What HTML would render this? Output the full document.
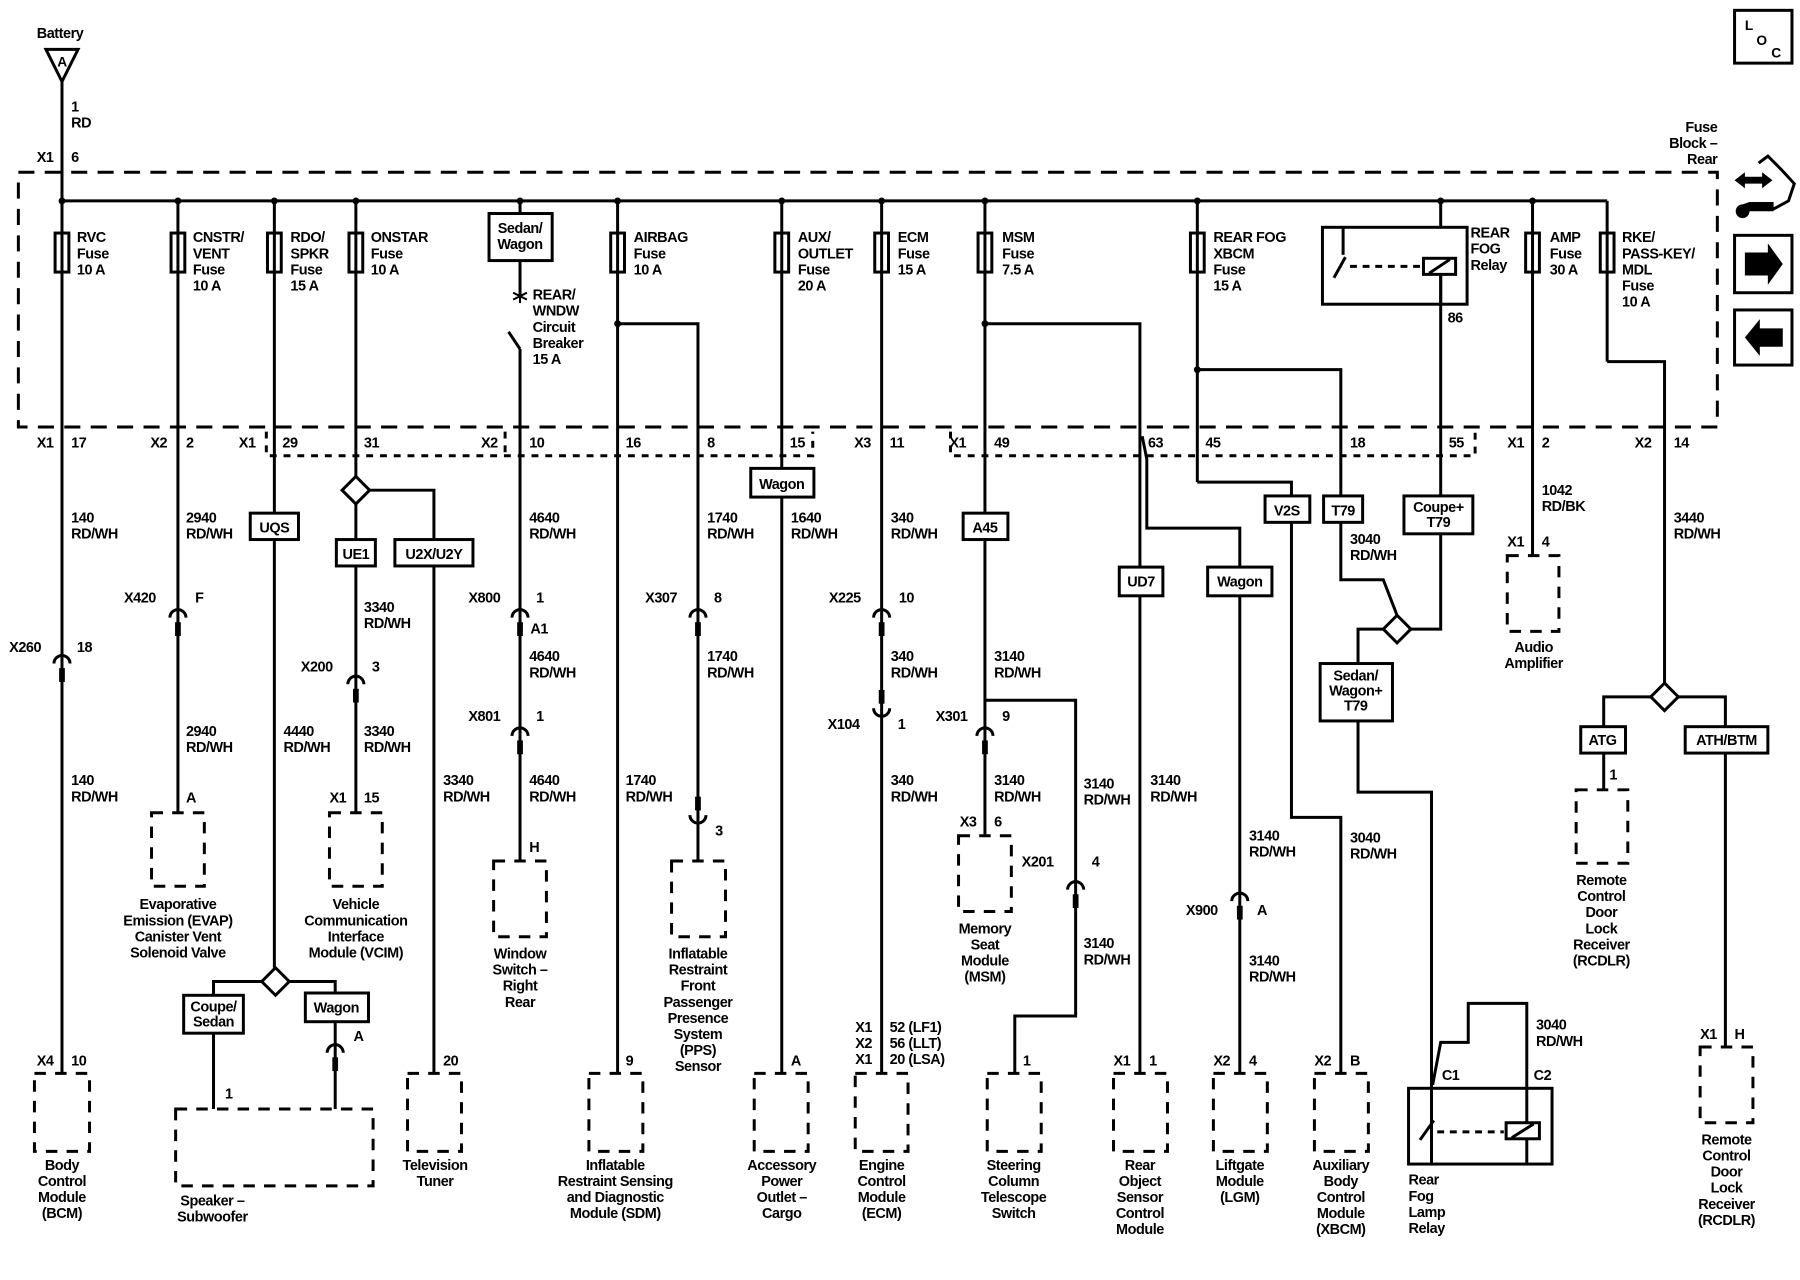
<!DOCTYPE html>
<html><head><meta charset="utf-8"><style>
html,body{margin:0;padding:0;background:#fff}
svg{display:block}
text{font-family:"Liberation Sans",Arial,sans-serif;font-size:12.6px;font-weight:bold;letter-spacing:-0.4px;fill:#000}
.m{text-anchor:middle}.e{text-anchor:end}
</style></head><body>
<svg width="1800" height="1280" viewBox="0 0 1568 1115" preserveAspectRatio="none" xmlns="http://www.w3.org/2000/svg">
<g stroke="#000" stroke-width="2.6" fill="none">
<path d="M40 43 L68 43 L54 71 Z"/>
<line x1="54" y1="71" x2="54" y2="935"/>
<rect x="16" y="150" width="1480" height="222" stroke-dasharray="14,9"/>
<path d="M232 376 V397 H708 V376" stroke-dasharray="6,6"/>
<line x1="440" y1="376" x2="440" y2="397" stroke-dasharray="6,6"/>
<path d="M828 376 V397 H1285 V376" stroke-dasharray="6,6"/>
<line x1="54" y1="175" x2="1400" y2="175"/>
<line x1="155" y1="175" x2="155" y2="708"/>
<line x1="239" y1="175" x2="239" y2="843"/>
<line x1="310" y1="175" x2="310" y2="415"/>
<path d="M322 427 H378 V935"/>
<line x1="310" y1="439" x2="310" y2="708"/>
<line x1="453" y1="175" x2="453" y2="186"/>
<line x1="453" y1="227" x2="453" y2="258"/>
<line x1="443" y1="289" x2="453" y2="304"/>
<line x1="453" y1="304" x2="453" y2="750"/>
<line x1="538" y1="175" x2="538" y2="935"/>
<path d="M538 282 H608 V750"/>
<line x1="681" y1="175" x2="681" y2="935"/>
<line x1="768" y1="175" x2="768" y2="935"/>
<line x1="858" y1="175" x2="858" y2="728"/>
<path d="M858 282 H993 V935"/>
<path d="M995 380 L999 400 V460 H1080 V935"/>
<path d="M858 610 H937 V885 H884 V935"/>
<line x1="1043" y1="175" x2="1043" y2="420"/>
<path d="M1043 322 H1168 V505 H1205 L1217 536"/>
<path d="M1043 420 H1125 V712 H1168 V935"/>
<path d="M1255 235 V548 H1229"/>
<path d="M1205 548 H1183 V690 H1247 V1013"/>
<path d="M1330 948 V874 H1279 V908 H1255 L1248 945"/>
<line x1="1335" y1="175" x2="1335" y2="484"/>
<line x1="1400" y1="175" x2="1400" y2="315"/>
<path d="M1400 315 H1450 V595"/>
<path d="M1438 607 H1397 V688"/>
<path d="M1462 607 H1503 V912"/>
<path d="M228 855 H186 V966"/>
<path d="M252 855 H292 V966"/>
</g>
<g stroke="#000" stroke-width="1.8">
<line x1="453" y1="252" x2="453" y2="264"/><line x1="447" y1="255" x2="459" y2="261"/><line x1="447" y1="261" x2="459" y2="255"/>
</g>
<g fill="#000">
<circle cx="54" cy="175" r="3"/><circle cx="155" cy="175" r="3"/><circle cx="239" cy="175" r="3"/><circle cx="310" cy="175" r="3"/><circle cx="453" cy="175" r="3"/><circle cx="538" cy="175" r="3"/><circle cx="681" cy="175" r="3"/><circle cx="768" cy="175" r="3"/><circle cx="858" cy="175" r="3"/><circle cx="1043" cy="175" r="3"/><circle cx="1255" cy="175" r="3"/><circle cx="1335" cy="175" r="3"/>
<circle cx="538" cy="282" r="3"/><circle cx="858" cy="282" r="3"/><circle cx="1043" cy="322" r="3"/>
</g>
<line x1="1255" y1="175" x2="1255" y2="198" stroke="#000" stroke-width="2.6"/>
<g stroke="#000" stroke-width="2.6" fill="#fff">
<rect x="48" y="203" width="12" height="34"/><rect x="149" y="203" width="12" height="34"/><rect x="233" y="203" width="12" height="34"/><rect x="304" y="203" width="12" height="34"/><rect x="532" y="203" width="12" height="34"/><rect x="675" y="203" width="12" height="34"/><rect x="762" y="203" width="12" height="34"/><rect x="852" y="203" width="12" height="34"/><rect x="1037" y="203" width="12" height="34"/><rect x="1329" y="203" width="12" height="34"/><rect x="1394" y="203" width="12" height="34"/>
</g>
<g stroke="#000" stroke-width="2.6">
<line x1="54" y1="203" x2="54" y2="237"/><line x1="155" y1="203" x2="155" y2="237"/><line x1="239" y1="203" x2="239" y2="237"/><line x1="310" y1="203" x2="310" y2="237"/><line x1="538" y1="203" x2="538" y2="237"/><line x1="681" y1="203" x2="681" y2="237"/><line x1="768" y1="203" x2="768" y2="237"/><line x1="858" y1="203" x2="858" y2="237"/><line x1="1043" y1="203" x2="1043" y2="237"/><line x1="1335" y1="203" x2="1335" y2="237"/><line x1="1400" y1="203" x2="1400" y2="237"/>
</g>
<g stroke="#000" stroke-width="2.6" fill="#fff">
<rect x="426" y="186" width="55" height="41"/>
<rect x="218" y="447" width="42" height="23"/>
<rect x="293" y="470" width="34" height="23"/>
<rect x="344" y="470" width="68" height="23"/>
<rect x="654" y="408" width="55" height="25"/>
<rect x="839" y="447" width="39" height="23"/>
<rect x="975" y="494" width="38" height="25"/>
<rect x="1052" y="494" width="56" height="25"/>
<rect x="1102" y="432" width="39" height="23"/>
<rect x="1153" y="432" width="34" height="23"/>
<rect x="1223" y="432" width="60" height="33"/>
<rect x="1150" y="578" width="63" height="50"/>
<rect x="1377" y="633" width="39" height="23"/>
<rect x="1468" y="633" width="72" height="23"/>
<rect x="160" y="867" width="52" height="33"/>
<rect x="266" y="865" width="55" height="25"/>
<path d="M310 415 L322 427 L310 439 L298 427 Z"/>
<path d="M240 843 L252 855 L240 867 L228 855 Z"/>
<path d="M1217 536 L1229 548 L1217 560 L1205 548 Z"/>
<path d="M1450 595 L1462 607 L1450 619 L1438 607 Z"/>
<rect x="1152" y="198" width="126" height="67" fill="none"/>
<rect x="1227" y="948" width="125" height="66" fill="none"/>
</g>
<g stroke="#000" stroke-width="2.6" fill="none">
<line x1="1170" y1="198" x2="1170" y2="222"/><line x1="1162" y1="242" x2="1172" y2="224"/>
<line x1="1176" y1="232" x2="1238" y2="232" stroke-dasharray="6,5"/>
<rect x="1240" y="225" width="28" height="14" fill="#fff"/><line x1="1245" y1="238" x2="1263" y2="226"/>
<line x1="1255" y1="239" x2="1255" y2="265"/>
<line x1="1247" y1="1000" x2="1247" y2="1013"/><line x1="1237" y1="993" x2="1249" y2="976"/>
<line x1="1252" y1="986" x2="1310" y2="986" stroke-dasharray="6,5"/>
<line x1="1330" y1="948" x2="1330" y2="1013"/>
<rect x="1312" y="978" width="29" height="14" fill="#fff"/><line x1="1317" y1="991" x2="1336" y2="979"/>
</g>
<g stroke="#000" stroke-width="2.6" fill="none" stroke-dasharray="10,8">
<rect x="30" y="935" width="48" height="68"/>
<rect x="132" y="708" width="46" height="64"/>
<rect x="287" y="708" width="46" height="64"/>
<rect x="153" y="966" width="172" height="67"/>
<rect x="355" y="935" width="47" height="68"/>
<rect x="430" y="750" width="46" height="66"/>
<rect x="513" y="935" width="47" height="68"/>
<rect x="585" y="750" width="47" height="66"/>
<rect x="657" y="935" width="47" height="68"/>
<rect x="745" y="935" width="46" height="68"/>
<rect x="835" y="728" width="46" height="66"/>
<rect x="860" y="935" width="47" height="68"/>
<rect x="970" y="935" width="47" height="68"/>
<rect x="1057" y="935" width="47" height="68"/>
<rect x="1145" y="935" width="47" height="68"/>
<rect x="1313" y="484" width="45" height="66"/>
<rect x="1373" y="688" width="45" height="64"/>
<rect x="1481" y="912" width="46" height="66"/>
</g>
<g stroke="#000" stroke-width="2.6" fill="none">
<path d="M47 578 A7 7 0 0 1 61 578"/><path d="M148 538 A7 7 0 0 1 162 538"/><path d="M303 596 A7 7 0 0 1 317 596"/><path d="M446 538 A7 7 0 0 1 460 538"/><path d="M446 641 A7 7 0 0 1 460 641"/><path d="M601 538 A7 7 0 0 1 615 538"/><path d="M761 538 A7 7 0 0 1 775 538"/><path d="M851 641 A7 7 0 0 1 865 641"/><path d="M930 775 A7 7 0 0 1 944 775"/><path d="M1073 785 A7 7 0 0 1 1087 785"/><path d="M285 917 A7 7 0 0 1 299 917"/>
<path d="M601 710 A7 7 0 0 0 615 710"/><path d="M761 617 A7 7 0 0 0 775 617"/>
</g>
<g fill="#000">
<rect x="51.5" y="582" width="5" height="12"/><rect x="152.5" y="542" width="5" height="12"/><rect x="307.5" y="600" width="5" height="12"/><rect x="450.5" y="542" width="5" height="12"/><rect x="450.5" y="645" width="5" height="12"/><rect x="605.5" y="542" width="5" height="12"/><rect x="765.5" y="542" width="5" height="12"/><rect x="855.5" y="645" width="5" height="12"/><rect x="934.5" y="779" width="5" height="12"/><rect x="1077.5" y="789" width="5" height="12"/><rect x="289.5" y="921" width="5" height="12"/>
<rect x="605.5" y="694" width="5" height="12"/><rect x="765.5" y="601" width="5" height="12"/>
</g>
<g stroke="#000" stroke-width="2.6" fill="none">
<rect x="1511" y="9" width="50" height="46"/>
<rect x="1511" y="205" width="50" height="50"/>
<rect x="1511" y="270" width="50" height="48"/>
<path d="M1532 142 L1540 136 L1552 148 L1563 160 L1558 175 L1545 182 L1526 180"/>
</g>
<g fill="#000">
<path d="M1520 220 H1540 V212 L1553 230 L1540 248 V240 H1520 Z"/>
<path d="M1553 286 H1533 V278 L1520 294 L1533 310 V302 H1553 Z"/>
<path d="M1511 157 L1520 150 V154 H1535 V150 L1544 157 L1535 164 V160 H1520 V164 Z"/>
<path d="M1518 178 a6 6 0 1 0 6 6 H1545 V176 H1524 Z"/>
</g>
<text x="1520" y="26" style="font-size:12px">L</text><text x="1530" y="39" style="font-size:12px">O</text><text x="1543" y="50" style="font-size:12px">C</text>
<text x="32" y="33">Battery</text>
<text x="54" y="58" class="m" style="font-size:12px">A</text>
<text x="62" y="97">1</text><text x="62" y="111">RD</text>
<text x="32" y="141">X1</text><text x="62" y="141">6</text>
<text x="1496" y="115" class="e">Fuse</text><text x="1496" y="129" class="e">Block –</text><text x="1496" y="143" class="e">Rear</text>
<text x="67" y="211">RVC<tspan x="67" dy="14">Fuse</tspan><tspan x="67" dy="14">10 A</tspan></text>
<text x="168" y="211">CNSTR/<tspan x="168" dy="14">VENT</tspan><tspan x="168" dy="14">Fuse</tspan><tspan x="168" dy="14">10 A</tspan></text>
<text x="253" y="211">RDO/<tspan x="253" dy="14">SPKR</tspan><tspan x="253" dy="14">Fuse</tspan><tspan x="253" dy="14">15 A</tspan></text>
<text x="323" y="211">ONSTAR<tspan x="323" dy="14">Fuse</tspan><tspan x="323" dy="14">10 A</tspan></text>
<text x="453" y="203" class="m">Sedan/<tspan x="453" dy="14">Wagon</tspan></text>
<text x="464" y="261">REAR/<tspan x="464" dy="14">WNDW</tspan><tspan x="464" dy="14">Circuit</tspan><tspan x="464" dy="14">Breaker</tspan><tspan x="464" dy="14">15 A</tspan></text>
<text x="552" y="211">AIRBAG<tspan x="552" dy="14">Fuse</tspan><tspan x="552" dy="14">10 A</tspan></text>
<text x="695" y="211">AUX/<tspan x="695" dy="14">OUTLET</tspan><tspan x="695" dy="14">Fuse</tspan><tspan x="695" dy="14">20 A</tspan></text>
<text x="782" y="211">ECM<tspan x="782" dy="14">Fuse</tspan><tspan x="782" dy="14">15 A</tspan></text>
<text x="873" y="211">MSM<tspan x="873" dy="14">Fuse</tspan><tspan x="873" dy="14">7.5 A</tspan></text>
<text x="1057" y="211">REAR FOG<tspan x="1057" dy="14">XBCM</tspan><tspan x="1057" dy="14">Fuse</tspan><tspan x="1057" dy="14">15 A</tspan></text>
<text x="1281" y="207">REAR<tspan x="1281" dy="14">FOG</tspan><tspan x="1281" dy="14">Relay</tspan></text>
<text x="1261" y="281">86</text>
<text x="1350" y="211">AMP<tspan x="1350" dy="14">Fuse</tspan><tspan x="1350" dy="14">30 A</tspan></text>
<text x="1413" y="211">RKE/<tspan x="1413" dy="14">PASS-KEY/</tspan><tspan x="1413" dy="14">MDL</tspan><tspan x="1413" dy="14">Fuse</tspan><tspan x="1413" dy="14">10 A</tspan></text>
<text x="32" y="390">X1</text><text x="62" y="390">17</text>
<text x="131" y="390">X2</text><text x="162" y="390">2</text>
<text x="208" y="390">X1</text><text x="246" y="390">29</text>
<text x="317" y="390">31</text>
<text x="419" y="390">X2</text><text x="461" y="390">10</text>
<text x="545" y="390">16</text><text x="616" y="390">8</text><text x="688" y="390">15</text>
<text x="744" y="390">X3</text><text x="775" y="390">11</text>
<text x="827" y="390">X1</text><text x="866" y="390">49</text>
<text x="1000" y="390">63</text><text x="1050" y="390">45</text><text x="1176" y="390">18</text><text x="1262" y="390">55</text>
<text x="1313" y="390">X1</text><text x="1343" y="390">2</text>
<text x="1424" y="390">X2</text><text x="1458" y="390">14</text>
<text x="239" y="464" class="m">UQS</text>
<text x="310" y="487" class="m">UE1</text>
<text x="378" y="487" class="m">U2X/U2Y</text>
<text x="681" y="426" class="m">Wagon</text>
<text x="858" y="464" class="m">A45</text>
<text x="994" y="511" class="m">UD7</text>
<text x="1080" y="511" class="m">Wagon</text>
<text x="1121" y="449" class="m">V2S</text>
<text x="1170" y="449" class="m">T79</text>
<text x="1253" y="446" class="m">Coupe+<tspan x="1253" dy="13">T79</tspan></text>
<text x="1181" y="593" class="m">Sedan/<tspan x="1181" dy="13">Wagon+</tspan><tspan x="1181" dy="13">T79</tspan></text>
<text x="1396" y="649" class="m">ATG</text>
<text x="1504" y="649" class="m">ATH/BTM</text>
<text x="186" y="881" class="m">Coupe/<tspan x="186" dy="13">Sedan</tspan></text>
<text x="293" y="882" class="m">Wagon</text>
<text x="62" y="455">140<tspan x="62" dy="14">RD/WH</tspan></text>
<text x="8" y="568">X260</text><text x="67" y="568">18</text>
<text x="62" y="684">140<tspan x="62" dy="14">RD/WH</tspan></text>
<text x="32" y="928">X4</text><text x="62" y="928">10</text>
<text x="162" y="455">2940<tspan x="162" dy="14">RD/WH</tspan></text>
<text x="108" y="525">X420</text><text x="170" y="525">F</text>
<text x="162" y="641">2940<tspan x="162" dy="14">RD/WH</tspan></text>
<text x="162" y="699">A</text>
<text x="247" y="641">4440<tspan x="247" dy="14">RD/WH</tspan></text>
<text x="317" y="533">3340<tspan x="317" dy="14">RD/WH</tspan></text>
<text x="262" y="585">X200</text><text x="324" y="585">3</text>
<text x="317" y="641">3340<tspan x="317" dy="14">RD/WH</tspan></text>
<text x="287" y="699">X1</text><text x="317" y="699">15</text>
<text x="386" y="684">3340<tspan x="386" dy="14">RD/WH</tspan></text>
<text x="386" y="928">20</text>
<text x="196" y="957">1</text>
<text x="308" y="907">A</text>
<text x="461" y="455">4640<tspan x="461" dy="14">RD/WH</tspan></text>
<text x="408" y="525">X800</text><text x="467" y="525">1</text>
<text x="462" y="552">A1</text>
<text x="461" y="576">4640<tspan x="461" dy="14">RD/WH</tspan></text>
<text x="408" y="628">X801</text><text x="467" y="628">1</text>
<text x="461" y="684">4640<tspan x="461" dy="14">RD/WH</tspan></text>
<text x="461" y="742">H</text>
<text x="545" y="684">1740<tspan x="545" dy="14">RD/WH</tspan></text>
<text x="545" y="928">9</text>
<text x="616" y="455">1740<tspan x="616" dy="14">RD/WH</tspan></text>
<text x="562" y="525">X307</text><text x="622" y="525">8</text>
<text x="616" y="576">1740<tspan x="616" dy="14">RD/WH</tspan></text>
<text x="623" y="728">3</text>
<text x="689" y="455">1640<tspan x="689" dy="14">RD/WH</tspan></text>
<text x="689" y="928">A</text>
<text x="776" y="455">340<tspan x="776" dy="14">RD/WH</tspan></text>
<text x="722" y="525">X225</text><text x="783" y="525">10</text>
<text x="776" y="576">340<tspan x="776" dy="14">RD/WH</tspan></text>
<text x="721" y="635">X104</text><text x="782" y="635">1</text>
<text x="776" y="684">340<tspan x="776" dy="14">RD/WH</tspan></text>
<text x="745" y="899">X1<tspan x="745" dy="14">X2</tspan><tspan x="745" dy="14">X1</tspan></text>
<text x="775" y="899">52 (LF1)<tspan x="775" dy="14">56 (LLT)</tspan><tspan x="775" dy="14">20 (LSA)</tspan></text>
<text x="866" y="576">3140<tspan x="866" dy="14">RD/WH</tspan></text>
<text x="815" y="628">X301</text><text x="873" y="628">9</text>
<text x="866" y="684">3140<tspan x="866" dy="14">RD/WH</tspan></text>
<text x="836" y="720">X3</text><text x="866" y="720">6</text>
<text x="944" y="687">3140<tspan x="944" dy="14">RD/WH</tspan></text>
<text x="890" y="755">X201</text><text x="951" y="755">4</text>
<text x="944" y="826">3140<tspan x="944" dy="14">RD/WH</tspan></text>
<text x="891" y="928">1</text>
<text x="1002" y="684">3140<tspan x="1002" dy="14">RD/WH</tspan></text>
<text x="970" y="928">X1</text><text x="1001" y="928">1</text>
<text x="1088" y="732">3140<tspan x="1088" dy="14">RD/WH</tspan></text>
<text x="1033" y="797">X900</text><text x="1095" y="797">A</text>
<text x="1088" y="841">3140<tspan x="1088" dy="14">RD/WH</tspan></text>
<text x="1057" y="928">X2</text><text x="1088" y="928">4</text>
<text x="1176" y="734">3040<tspan x="1176" dy="14">RD/WH</tspan></text>
<text x="1145" y="928">X2</text><text x="1176" y="928">B</text>
<text x="1176" y="474">3040<tspan x="1176" dy="14">RD/WH</tspan></text>
<text x="1338" y="897">3040<tspan x="1338" dy="14">RD/WH</tspan></text>
<text x="1256" y="941">C1</text><text x="1336" y="941">C2</text>
<text x="1343" y="431">1042<tspan x="1343" dy="14">RD/BK</tspan></text>
<text x="1313" y="476">X1</text><text x="1343" y="476">4</text>
<text x="1458" y="455">3440<tspan x="1458" dy="14">RD/WH</tspan></text>
<text x="1402" y="679">1</text>
<text x="1481" y="905">X1</text><text x="1511" y="905">H</text>
<text x="54" y="1019" class="m">Body<tspan x="54" dy="14">Control</tspan><tspan x="54" dy="14">Module</tspan><tspan x="54" dy="14">(BCM)</tspan></text>
<text x="155" y="792" class="m">Evaporative<tspan x="155" dy="14">Emission (EVAP)</tspan><tspan x="155" dy="14">Canister Vent</tspan><tspan x="155" dy="14">Solenoid Valve</tspan></text>
<text x="310" y="792" class="m">Vehicle<tspan x="310" dy="14">Communication</tspan><tspan x="310" dy="14">Interface</tspan><tspan x="310" dy="14">Module (VCIM)</tspan></text>
<text x="185" y="1050" class="m">Speaker –<tspan x="185" dy="14">Subwoofer</tspan></text>
<text x="379" y="1019" class="m">Television<tspan x="379" dy="14">Tuner</tspan></text>
<text x="453" y="835" class="m">Window<tspan x="453" dy="14">Switch –</tspan><tspan x="453" dy="14">Right</tspan><tspan x="453" dy="14">Rear</tspan></text>
<text x="536" y="1019" class="m">Inflatable<tspan x="536" dy="14">Restraint Sensing</tspan><tspan x="536" dy="14">and Diagnostic</tspan><tspan x="536" dy="14">Module (SDM)</tspan></text>
<text x="608" y="835" class="m">Inflatable<tspan x="608" dy="14">Restraint</tspan><tspan x="608" dy="14">Front</tspan><tspan x="608" dy="14">Passenger</tspan><tspan x="608" dy="14">Presence</tspan><tspan x="608" dy="14">System</tspan><tspan x="608" dy="14">(PPS)</tspan><tspan x="608" dy="14">Sensor</tspan></text>
<text x="681" y="1019" class="m">Accessory<tspan x="681" dy="14">Power</tspan><tspan x="681" dy="14">Outlet –</tspan><tspan x="681" dy="14">Cargo</tspan></text>
<text x="768" y="1019" class="m">Engine<tspan x="768" dy="14">Control</tspan><tspan x="768" dy="14">Module</tspan><tspan x="768" dy="14">(ECM)</tspan></text>
<text x="858" y="813" class="m">Memory<tspan x="858" dy="14">Seat</tspan><tspan x="858" dy="14">Module</tspan><tspan x="858" dy="14">(MSM)</tspan></text>
<text x="883" y="1019" class="m">Steering<tspan x="883" dy="14">Column</tspan><tspan x="883" dy="14">Telescope</tspan><tspan x="883" dy="14">Switch</tspan></text>
<text x="993" y="1019" class="m">Rear<tspan x="993" dy="14">Object</tspan><tspan x="993" dy="14">Sensor</tspan><tspan x="993" dy="14">Control</tspan><tspan x="993" dy="14">Module</tspan></text>
<text x="1080" y="1019" class="m">Liftgate<tspan x="1080" dy="14">Module</tspan><tspan x="1080" dy="14">(LGM)</tspan></text>
<text x="1168" y="1019" class="m">Auxiliary<tspan x="1168" dy="14">Body</tspan><tspan x="1168" dy="14">Control</tspan><tspan x="1168" dy="14">Module</tspan><tspan x="1168" dy="14">(XBCM)</tspan></text>
<text x="1227" y="1032">Rear<tspan x="1227" dy="14">Fog</tspan><tspan x="1227" dy="14">Lamp</tspan><tspan x="1227" dy="14">Relay</tspan></text>
<text x="1336" y="568" class="m">Audio<tspan x="1336" dy="14">Amplifier</tspan></text>
<text x="1395" y="771" class="m">Remote<tspan x="1395" dy="14">Control</tspan><tspan x="1395" dy="14">Door</tspan><tspan x="1395" dy="14">Lock</tspan><tspan x="1395" dy="14">Receiver</tspan><tspan x="1395" dy="14">(RCDLR)</tspan></text>
<text x="1504" y="997" class="m">Remote<tspan x="1504" dy="14">Control</tspan><tspan x="1504" dy="14">Door</tspan><tspan x="1504" dy="14">Lock</tspan><tspan x="1504" dy="14">Receiver</tspan><tspan x="1504" dy="14">(RCDLR)</tspan></text>
</svg>
</body></html>
